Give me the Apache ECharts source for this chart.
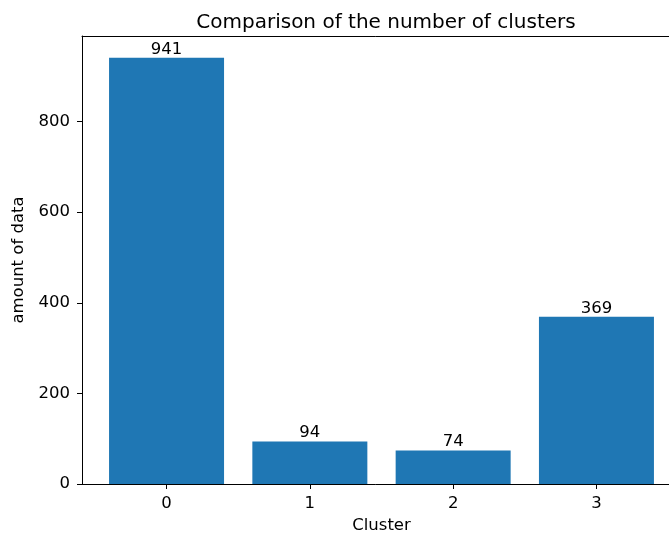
<!DOCTYPE html>
<html>
<head>
<meta charset="utf-8">
<script src="https://cdn.jsdelivr.net/npm/echarts@6/dist/echarts.min.js"></script>
<style>html,body{margin:0;padding:0;background:#fff}#c{width:669px;height:537px}</style>
</head>
<body>
<div id="c"></div>
<script>
const categories = [0, 1, 2, 3];
const values = [941, 94, 74, 369];
const yTicks = [0, 200, 400, 600, 800];
const titleText = 'Comparison of the number of clusters';
const xLabel = 'Cluster';
const yLabel = 'amount of data';

const font = 'DejaVu Sans';
const fs = 16.5;
const chart = echarts.init(document.getElementById('c'), null, {renderer: 'canvas'});
chart.setOption({
  animation: false,
  backgroundColor: '#fff',
  textStyle: {fontFamily: font},
  title: {
    text: titleText, left: 381, top: 8, textAlign: 'center',
    textStyle: {fontFamily: font, fontSize: 20, fontWeight: 'normal', color: '#000'}
  },
  grid: {left: 82, right: -12, top: 36, bottom: 53, outerBoundsMode: 'none'},
  xAxis: [{
    type: 'value', min: -0.59, max: 3.59, position: 'bottom',
    name: xLabel, nameLocation: 'middle', nameGap: 32,
    nameTextStyle: {fontFamily: font, fontSize: fs, color: '#000'},
    axisLine: {show: true, onZero: false, lineStyle: {color: '#000', width: 1}},
    axisTick: {show: true, length: 5, customValues: categories, lineStyle: {color: '#000'}},
    axisLabel: {customValues: categories, fontFamily: font, fontSize: fs, color: '#000', margin: 11},
    splitLine: {show: false}
  }, {
    type: 'value', min: -0.59, max: 3.59, position: 'top',
    axisLine: {show: true, onZero: false, lineStyle: {color: '#000', width: 1}},
    axisTick: {show: false}, axisLabel: {show: false}, splitLine: {show: false}
  }],
  yAxis: {
    type: 'value', min: 0, max: 989,
    name: yLabel, nameLocation: 'middle', nameGap: 46, nameRotate: 90,
    nameTextStyle: {fontFamily: font, fontSize: fs, color: '#000'},
    axisLine: {show: true, onZero: false, lineStyle: {color: '#000', width: 1}},
    axisTick: {show: true, length: 5, customValues: yTicks, lineStyle: {color: '#000'}},
    axisLabel: {customValues: yTicks, fontFamily: font, fontSize: fs, color: '#000', margin: 12},
    splitLine: {show: false}
  },
  series: [{
    type: 'bar',
    xAxisIndex: 0,
    barWidth: 115,
    itemStyle: {color: '#1f77b4'},
    label: {show: true, position: 'top', distance: 0, fontFamily: font, fontSize: fs, color: '#000'},
    data: categories.map((c, i) => [c, values[i]])
  }]
});
</script>
</body>
</html>
